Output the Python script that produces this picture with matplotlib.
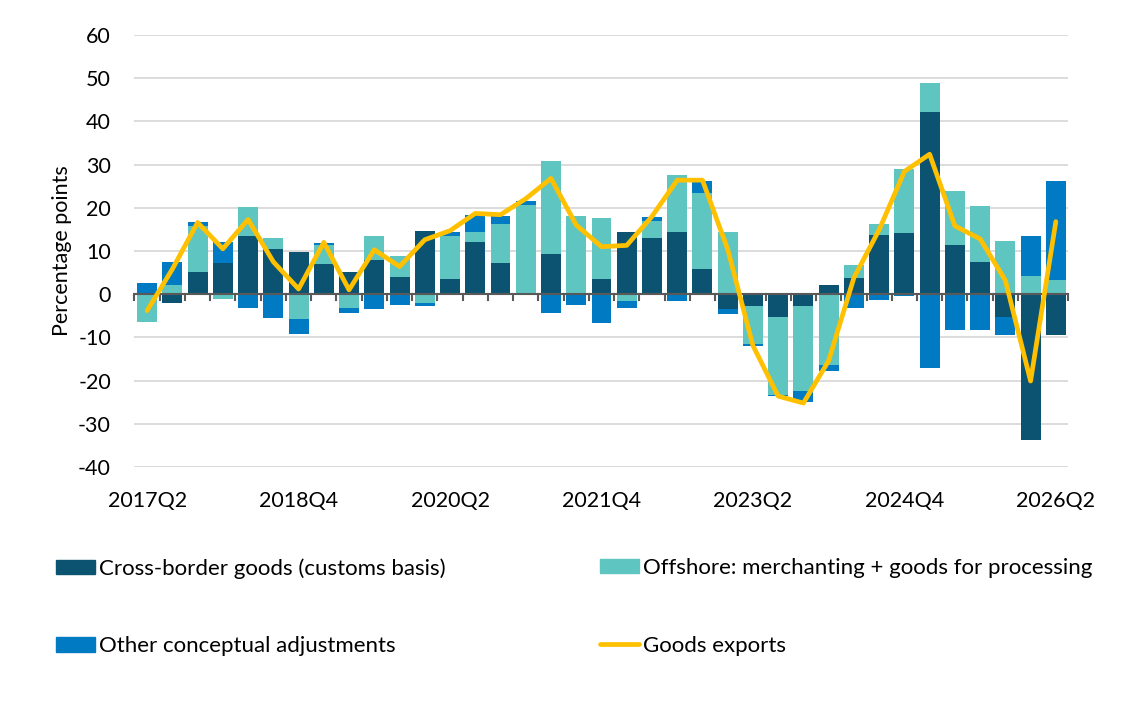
import matplotlib
matplotlib.use("Agg")
import matplotlib.pyplot as plt
import numpy as np
from matplotlib.patches import Patch
from matplotlib.lines import Line2D

plt.rcParams['font.family'] = ['Lato', 'DejaVu Sans']
plt.rcParams['axes.unicode_minus'] = False

# quarters 2017Q2 .. 2026Q2
quarters = []
for yr in range(2017, 2027):
    for q in range(1, 5):
        if (yr == 2017 and q < 2) or (yr == 2026 and q > 2):
            continue
        quarters.append(f"{yr}Q{q}")

cross_border = [0.0, -2.1, 5.1, 7.2, 13.5, 10.5, 9.8, 7.0, 5.1, 7.8,
                4.0, 14.6, 3.6, 12.0, 7.3, 0.0, 9.2, 0.0, 3.4, 14.4,
                13.0, 14.4, 5.9, -3.5, -2.7, -5.2, -2.7, 2.1, 3.7, 13.8,
                14.2, 42.2, 11.5, 7.5, -5.2, -33.7, -9.5]
offshore = [-6.4, 2.1, 10.6, -1.2, 6.7, 2.5, -5.8, 4.5, -3.3, 5.7,
            4.8, -2.0, 9.8, 2.4, 8.9, 20.7, 21.6, 18.1, 14.3, -1.6,
            4.0, 13.3, 17.5, 14.5, -8.8, -18.1, -19.8, -16.3, 3.0, 2.5,
            14.8, 6.6, 12.4, 13.0, 12.4, 4.3, 3.2]
other_adj = [2.7, 5.3, 0.9, 4.9, -3.3, -5.6, -3.3, 0.4, -1.1, -3.5,
             -2.6, -0.7, 1.0, 4.0, 1.9, 0.9, -4.4, -2.5, -6.7, -1.6,
             0.9, -1.5, 2.7, -1.1, -0.4, -0.2, -2.5, -1.4, -3.2, -1.4,
             -0.5, -17.2, -8.4, -8.2, -4.3, 9.2, 23.0]
goods_exports = [-3.8, 5.8, 16.6, 10.5, 17.3, 7.5, 1.2, 12.0, 1.0, 10.3,
                 6.4, 12.6, 14.7, 18.7, 18.4, 22.1, 26.8, 16.0, 11.0, 11.3,
                 18.0, 26.4, 26.4, 10.4, -11.9, -23.6, -25.2, -15.4, 3.8, 14.9,
                 28.4, 32.4, 15.8, 12.8, 3.2, -20.1, 16.8]

series = [
    ("Cross-border goods (customs basis)", cross_border, "#0B5370"),
    ("Offshore: merchanting + goods for processing", offshore, "#5EC5C1"),
    ("Other conceptual adjustments", other_adj, "#007AC2"),
]

fs = 15.5
fs_leg = 16

fig = plt.figure(figsize=(11.34, 7.08), dpi=100)
ax = fig.add_axes([0.1186, 0.3404, 0.8236, 0.6102])

x = np.arange(len(quarters))
pos_base = np.zeros(len(x))
neg_base = np.zeros(len(x))
for name, vals, col in series:
    v = np.array(vals)
    bottom = np.where(v >= 0, pos_base, neg_base)
    ax.bar(x, v, width=0.79, bottom=bottom, color=col, zorder=2)
    pos_base += np.where(v >= 0, v, 0)
    neg_base += np.where(v < 0, v, 0)

ax.plot(x, goods_exports, color="#FFC000", lw=3.4, solid_joinstyle="round",
        solid_capstyle="round", zorder=4)

ax.set_xlim(-0.5, len(x) - 0.5)
ax.set_ylim(-40, 60)
ax.set_yticks(range(-40, 61, 10))
ax.yaxis.grid(True, color="#D9D9D9", lw=1.3, zorder=0)
ax.set_axisbelow(True)
for s in ax.spines.values():
    s.set_visible(False)
ax.tick_params(axis="y", length=0, labelsize=fs, pad=17, colors="black")
ax.set_ylabel("Percentage points", fontsize=fs, labelpad=4)

# zero axis line with category ticks
ax.axhline(0, color="#595959", lw=1.5, zorder=3)
for b in np.arange(-0.5, len(x), 1.0):
    ax.plot([b, b], [0, -1.3], color="#595959", lw=1.5, zorder=3, clip_on=False)

ax.set_xticks(x[::6])
ax.set_xticklabels(quarters[::6])
ax.tick_params(axis="x", length=0, labelsize=fs, pad=17)

# legend, two columns laid out like the original
h_dark = Patch(color=series[0][2])
h_teal = Patch(color=series[1][2])
h_blue = Patch(color=series[2][2])
h_line = Line2D([0], [0], color="#FFC000", lw=3.4, solid_capstyle="round")
common = dict(frameon=False, fontsize=fs_leg, handlelength=1.75, handleheight=0.6,
              handletextpad=0.2, labelspacing=2.6, borderpad=0, borderaxespad=0,
              loc="upper left")
leg1 = fig.legend([h_dark, h_blue], [series[0][0], series[2][0]],
                  bbox_to_anchor=(56 / 1134, 1 - 558 / 708), **common)
leg2 = fig.legend([h_teal, h_line], [series[1][0], "Goods exports"],
                  bbox_to_anchor=(600 / 1134, 1 - 558 / 708), **common)

fig.savefig("out.png", dpi=100)
